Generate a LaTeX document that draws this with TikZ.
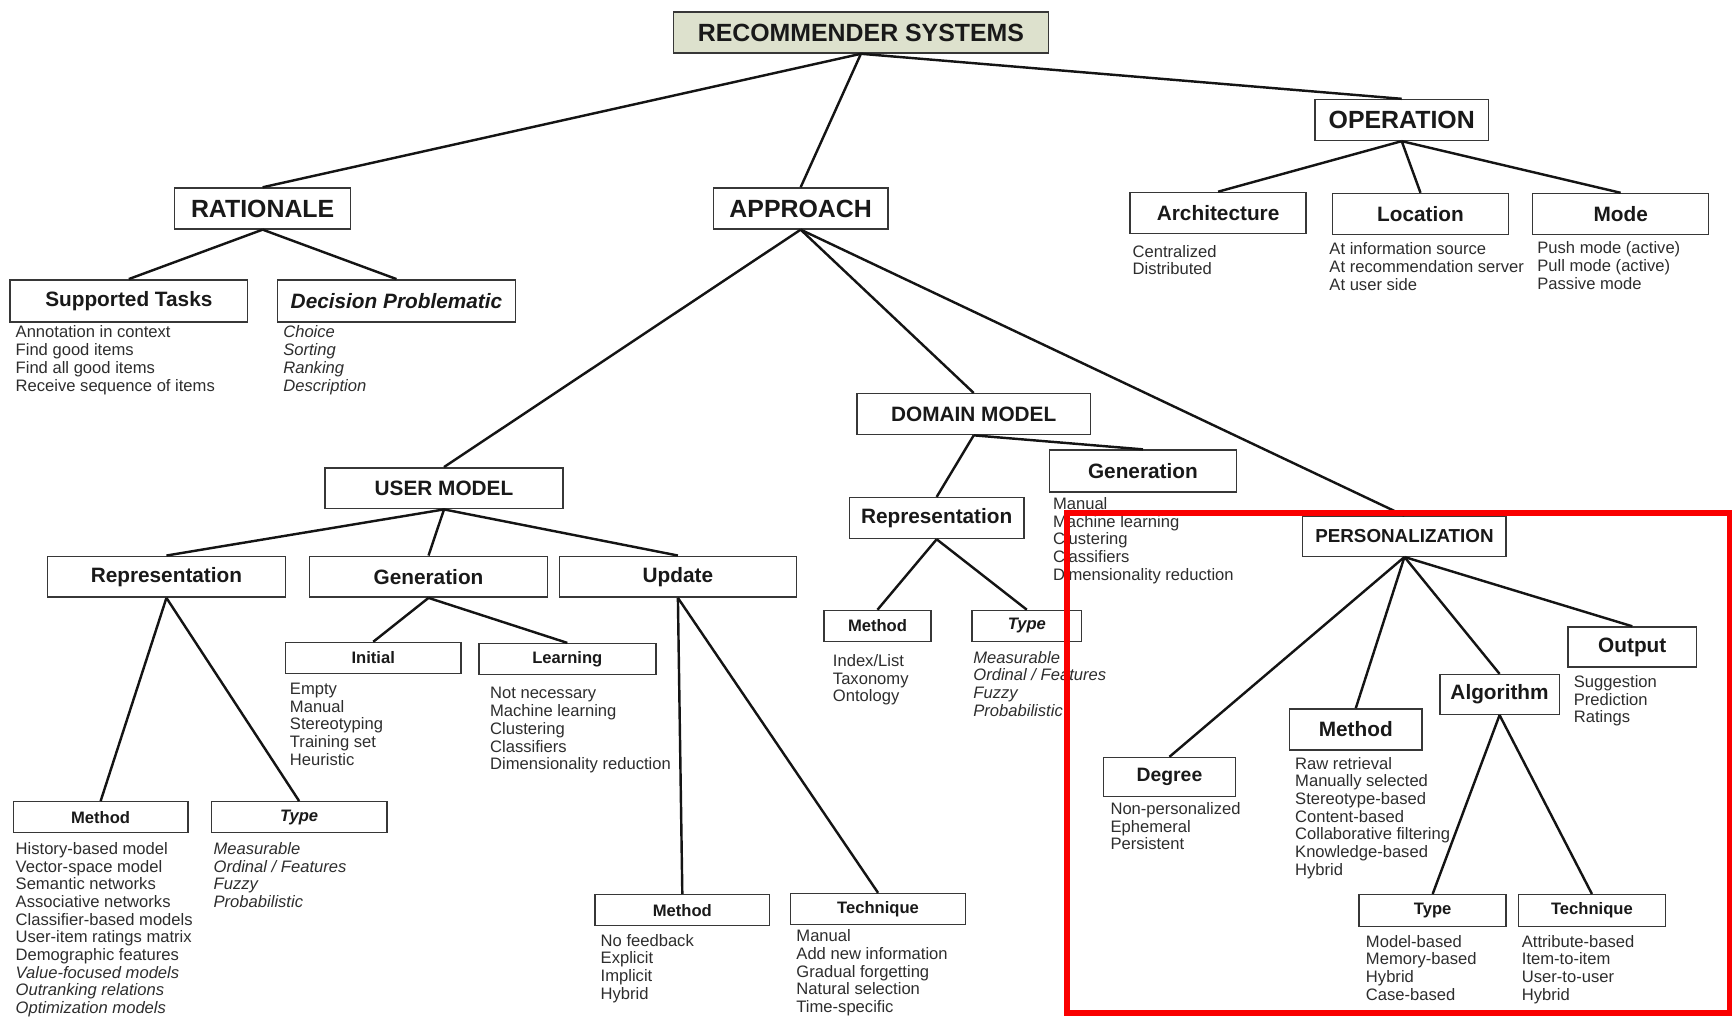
\documentclass[tikz,border=0pt]{standalone}
\usepackage{fontspec}
\setmainfont{Liberation Sans}
\usetikzlibrary{positioning}
\definecolor{boxgreen}{RGB}{221,225,205}
\definecolor{boxline}{RGB}{55,55,55}
\definecolor{listgray}{RGB}{45,45,45}
\definecolor{markred}{RGB}{250,0,0}

\begin{document}
\begin{tikzpicture}[x=1pt, y=-1pt,
    box/.style={rectangle, draw=boxline, line width=1.3pt, inner sep=0pt, text=black!90},
    boxsize/.style 2 args={minimum width=#1pt, minimum height=#2pt},
    big/.style={box, font=\fontsize{22.5}{24}\selectfont\bfseries},
    mid/.style={box, font=\fontsize{18.8}{20}\selectfont\bfseries},
    small/.style={box, font=\fontsize{15}{16}\selectfont\bfseries},
    items/.style={anchor=north west, align=left, inner sep=0pt, text=listgray, font=\fontsize{15}{16}\selectfont},
    link/.style={line width=2.2pt, draw=black!92},
    highlight/.style={draw=markred, line width=5pt}
]
    \useasboundingbox (0,0) rectangle (1568,920);

    \node[big, fill=boxgreen, boxsize={339}{37}] (rs) at (778.5,29.5) {RECOMMENDER SYSTEMS};
    \node[big, boxsize={159}{37}] (rat) at (237.5,188.5) {RATIONALE};
    \node[big, boxsize={158}{37}] (app) at (724,188.5) {APPROACH};
    \node[big, boxsize={157}{37}] (op) at (1267.5,108.5) {OPERATION};

    \node[mid, boxsize={215}{38}] (sup) at (116.5,272) {Supported Tasks};
    \node[mid, boxsize={215}{38}] (dec) at (358.5,272) {\itshape Decision Problematic};
    \node[items] (supList) at (14,294.5) {Annotation in context\\Find good items\\Find all good items\\Receive sequence of items};
    \node[items, font=\fontsize{15}{16}\selectfont\itshape] (decList) at (256,294.5) {Choice\\Sorting\\Ranking\\Description};

    \node[mid, boxsize={159}{37}] (arch) at (1101.5,192.5) {Architecture};
    \node[mid, boxsize={159}{37}] (loc) at (1284.5,193.5) {Location};
    \node[mid, boxsize={159}{37}] (mode) at (1465.5,193.5) {Mode};
    \node[items] (archList) at (1024,221.5) {Centralized\\Distributed};
    \node[items] (locList) at (1202,219.5) {At information source\\At recommendation server\\At user side};
    \node[items] (modeList) at (1390,218.5) {Push mode (active)\\Pull mode (active)\\Passive mode};

    \node[mid, boxsize={215}{37}] (um) at (401.5,441.5) {USER MODEL};
    \node[mid, boxsize={211}{37}] (dm) at (880.5,374.5) {DOMAIN MODEL};
    \node[mid, font=\fontsize{17}{18}\selectfont\bfseries, boxsize={184}{36}] (pers) at (1270,485) {PERSONALIZATION};

    \node[mid, boxsize={169}{38}] (dmgen) at (1033.5,426) {Generation};
    \node[mid, boxsize={158}{37}] (dmrep) at (847,468.5) {Representation};
    \node[small, boxsize={97}{28}] (dmmeth) at (793.5,566) {Method};
    \node[small, boxsize={99}{28}] (dmtype) at (928.5,566) {\itshape Type};
    \node[items] (dmgenList) at (952,449.5) {Manual\\Machine learning\\Clustering\\Classifiers\\Dimensionality reduction};
    \node[items] (dmmethList) at (753,591.5) {Index/List\\Taxonomy\\Ontology};
    \node[items, font=\fontsize{15}{16}\selectfont\itshape] (dmtypeList) at (880,588.5) {Measurable\\Ordinal / Features\\Fuzzy\\Probabilistic};

    \node[mid, boxsize={215}{37}] (umrep) at (150.5,521.5) {Representation};
    \node[mid, boxsize={215}{37}] (umgen) at (387.5,521.5) {Generation};
    \node[mid, boxsize={214}{37}] (umupd) at (613,521.5) {Update};

    \node[small, boxsize={159}{28}] (init) at (337.5,595) {Initial};
    \node[small, boxsize={160}{28}] (learn) at (513,596) {Learning};
    \node[items] (initList) at (262,617.5) {Empty\\Manual\\Stereotyping\\Training set\\Heuristic};
    \node[items] (learnList) at (443,621.5) {Not necessary\\Machine learning\\Clustering\\Classifiers\\Dimensionality reduction};

    \node[small, boxsize={158}{28}] (rmeth) at (91,739) {Method};
    \node[small, boxsize={159}{28}] (rtype) at (270.5,739) {\itshape Type};
    \node[items] (rmethList) at (14,761.5) {History-based model\\Vector-space model\\Semantic networks\\Associative networks\\Classifier-based models\\User-item ratings matrix\\Demographic features\\\textit{Value-focused models}\\\textit{Outranking relations}\\\textit{Optimization models}};
    \node[items, font=\fontsize{15}{16}\selectfont\itshape] (rtypeList) at (193,761.5) {Measurable\\Ordinal / Features\\Fuzzy\\Probabilistic};

    \node[small, boxsize={158}{28}] (umeth) at (617,823) {Method};
    \node[small, boxsize={158}{28}] (utech) at (794,822) {Technique};
    \node[items] (umethList) at (543,844.5) {No feedback\\Explicit\\Implicit\\Hybrid};
    \node[items] (utechList) at (720,840.5) {Manual\\Add new information\\Gradual forgetting\\Natural selection\\Time-specific};

    \node[mid, font=\fontsize{17.5}{19}\selectfont\bfseries, boxsize={119}{35}] (deg) at (1057.5,702.5) {Degree};
    \node[mid, boxsize={120}{37}] (pmeth) at (1226,659.5) {Method};
    \node[mid, boxsize={108}{36}] (alg) at (1356,628) {Algorithm};
    \node[mid, boxsize={116}{36}] (out) at (1476,585) {Output};
    \node[items] (degList) at (1004,725.5) {Non-personalized\\Ephemeral\\Persistent};
    \node[items] (pmethList) at (1171,684.5) {Raw retrieval\\Manually selected\\Stereotype-based\\Content-based\\Collaborative filtering\\Knowledge-based\\Hybrid};
    \node[items] (outList) at (1423,610.5) {Suggestion\\Prediction\\Ratings};

    \node[small, boxsize={133}{29}] (atype) at (1295.5,823.5) {Type};
    \node[small, boxsize={133}{29}] (atech) at (1439.5,823.5) {Technique};
    \node[items] (atypeList) at (1235,845.5) {Model-based\\Memory-based\\Hybrid\\Case-based};
    \node[items] (atechList) at (1376,845.5) {Attribute-based\\Item-to-item\\User-to-user\\Hybrid};

    \draw[link] (rs.south) -- (rat.north);
    \draw[link] (rs.south) -- (app.north);
    \draw[link] (rs.south) -- (op.north);

    \draw[link] (rat.south) -- (sup.north);
    \draw[link] (rat.south) -- (dec.north);

    \draw[link] (op.south) -- (arch.north);
    \draw[link] (op.south) -- (loc.north);
    \draw[link] (op.south) -- (mode.north);

    \draw[link] (app.south) -- (um.north);
    \draw[link] (app.south) -- (dm.north);
    \draw[link] (app.south) -- (pers.north);

    \draw[link] (dm.south) -- (dmrep.north);
    \draw[link] (dm.south) -- (dmgen.north);
    \draw[link] (dmrep.south) -- (dmmeth.north);
    \draw[link] (dmrep.south) -- (dmtype.north);

    \draw[link] (um.south) -- (umrep.north);
    \draw[link] (um.south) -- (umgen.north);
    \draw[link] (um.south) -- (umupd.north);
    \draw[link] (umrep.south) -- (rmeth.north);
    \draw[link] (umrep.south) -- (rtype.north);
    \draw[link] (umgen.south) -- (init.north);
    \draw[link] (umgen.south) -- (learn.north);
    \draw[link] (umupd.south) -- (umeth.north);
    \draw[link] (umupd.south) -- (utech.north);

    \draw[link] (pers.south) -- (deg.north);
    \draw[link] (pers.south) -- (pmeth.north);
    \draw[link] (pers.south) -- (alg.north);
    \draw[link] (pers.south) -- (out.north);
    \draw[link] (alg.south) -- (atype.north);
    \draw[link] (alg.south) -- (atech.north);

    \draw[highlight] (965,464) rectangle (1564,916);
\end{tikzpicture}
\end{document}
